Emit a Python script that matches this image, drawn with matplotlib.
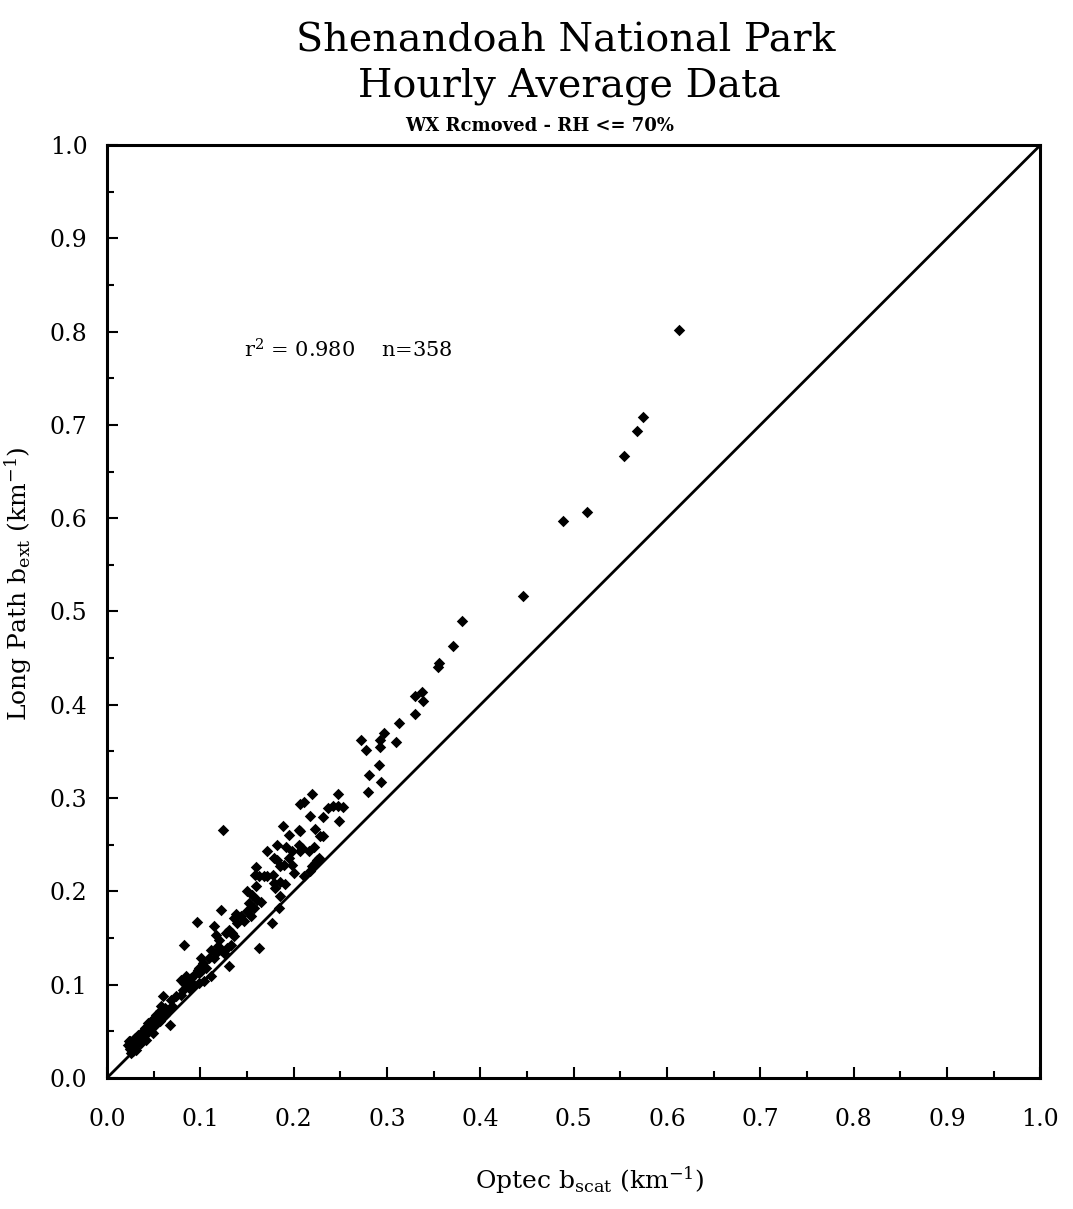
import numpy as np
import matplotlib.pyplot as plt

plt.rcParams["font.family"] = ["DejaVu Serif"]
plt.rcParams["mathtext.fontset"] = "dejavuserif"

# Optec b_scat vs long path b_ext
optec_bscat = [
    # sparse upper range
    0.613, 0.574, 0.568, 0.554, 0.514, 0.489, 0.446,
    0.380, 0.371, 0.356, 0.355, 0.337, 0.330, 0.339, 0.330,
    0.313, 0.310, 0.297, 0.292, 0.292, 0.272, 0.277, 0.291,
    0.281, 0.294, 0.280,
    # 0.15 - 0.26
    0.1248, 0.2195, 0.2479, 0.2064, 0.2106, 0.2170, 0.2319,
    0.2372, 0.2426, 0.2479, 0.2525, 0.2489, 0.1887, 0.1947,
    0.2053, 0.2071, 0.2230, 0.2284, 0.2312, 0.1823, 0.1716,
    0.1922, 0.2053, 0.2089, 0.2071, 0.2160, 0.2213, 0.1982,
    0.1947, 0.1982, 0.2000, 0.1894, 0.1858, 0.1787, 0.1816,
    0.2266, 0.2230, 0.2195, 0.2248, 0.2177, 0.2106, 0.1592,
    0.1582, 0.1628, 0.1681, 0.1716, 0.1780, 0.1787, 0.1805,
    0.1858, 0.1911, 0.1858, 0.1840, 0.1770, 0.1631,
    # 0.08 - 0.16
    0.1504, 0.1557, 0.1592, 0.1610, 0.1645, 0.1521, 0.1574,
    0.1504, 0.1539, 0.1468, 0.1433, 0.1380, 0.1362, 0.1397,
    0.1220, 0.1149, 0.1167, 0.1202, 0.1273, 0.1309, 0.1344,
    0.1362, 0.1326, 0.1290, 0.1255, 0.1220, 0.1184, 0.1167,
    0.1113, 0.1096, 0.1149, 0.0965, 0.0830, 0.1309, 0.1113,
    0.1043, 0.0990, 0.1007, 0.0972, 0.0936, 0.0900, 0.0872,
    0.0848, 0.0812, 0.0794, 0.0883, 0.0936, 0.0990, 0.1007,
    0.1025, 0.1060, 0.0990, 0.0794, 0.0823, 0.0848,
    # dense cluster near the origin
    0.0688, 0.0741, 0.0695, 0.0652, 0.0617, 0.0600, 0.0582,
    0.0564, 0.0528, 0.0510, 0.0475, 0.0440, 0.0457, 0.0404,
    0.0369, 0.0333, 0.0298, 0.0280, 0.0262, 0.0245, 0.0227,
    0.0262, 0.0298, 0.0280, 0.0316, 0.0351, 0.0387, 0.0422,
    0.0457, 0.0510, 0.0546, 0.0564, 0.0617, 0.0652, 0.0670,
    0.0493, 0.0422, 0.0369, 0.0316, 0.0255, 0.0245, 0.0235,
    0.0270, 0.0300, 0.0330, 0.0360, 0.0390, 0.0420, 0.0450,
    0.0480, 0.0520, 0.0550, 0.0580, 0.0620, 0.0250, 0.0290,
    0.0340, 0.0380, 0.0430, 0.0470, 0.0540, 0.0590,
]

longpath_bext = [
    0.802, 0.708, 0.693, 0.667, 0.607, 0.597, 0.517,
    0.490, 0.463, 0.445, 0.440, 0.414, 0.409, 0.404, 0.390,
    0.380, 0.360, 0.370, 0.362, 0.355, 0.362, 0.352, 0.335,
    0.325, 0.317, 0.306,
    0.2661, 0.3046, 0.3046, 0.2939, 0.2954, 0.2804, 0.2793,
    0.2893, 0.2918, 0.2911, 0.2904, 0.2757, 0.2703, 0.2607,
    0.2661, 0.2643, 0.2671, 0.2589, 0.2596, 0.2500, 0.2429,
    0.2475, 0.2500, 0.2464, 0.2429, 0.2429, 0.2475, 0.2429,
    0.2357, 0.2286, 0.2196, 0.2286, 0.2268, 0.2357, 0.2339,
    0.2357, 0.2304, 0.2268, 0.2339, 0.2214, 0.2161, 0.2261,
    0.2179, 0.2161, 0.2168, 0.2161, 0.2179, 0.2089, 0.2036,
    0.2096, 0.2082, 0.1946, 0.1821, 0.1661, 0.1393,
    0.2000, 0.1964, 0.2054, 0.1911, 0.1882, 0.1875, 0.1821,
    0.1786, 0.1732, 0.1679, 0.1732, 0.1761, 0.1714, 0.1661,
    0.1804, 0.1625, 0.1536, 0.1482, 0.1554, 0.1589, 0.1554,
    0.1518, 0.1429, 0.1393, 0.1339, 0.1375, 0.1411, 0.1339,
    0.1375, 0.1286, 0.1286, 0.1668, 0.1421, 0.1204, 0.1089,
    0.1036, 0.1125, 0.1143, 0.1161, 0.1107, 0.1071, 0.1036,
    0.1000, 0.0946, 0.0893, 0.0964, 0.1000, 0.1018, 0.1286,
    0.1232, 0.1179, 0.1179, 0.1054, 0.1018, 0.1089,
    0.0839, 0.0875, 0.0768, 0.0732, 0.0750, 0.0875, 0.0768,
    0.0714, 0.0679, 0.0643, 0.0607, 0.0589, 0.0518, 0.0536,
    0.0482, 0.0464, 0.0429, 0.0411, 0.0375, 0.0393, 0.0357,
    0.0321, 0.0321, 0.0286, 0.0375, 0.0411, 0.0446, 0.0482,
    0.0571, 0.0589, 0.0661, 0.0607, 0.0679, 0.0714, 0.0571,
    0.0482, 0.0411, 0.0375, 0.0304, 0.0268, 0.0311, 0.0400,
    0.0380, 0.0360, 0.0420, 0.0440, 0.0470, 0.0500, 0.0540,
    0.0560, 0.0620, 0.0640, 0.0700, 0.0730, 0.0330, 0.0350,
    0.0400, 0.0430, 0.0500, 0.0530, 0.0630, 0.0680,
]

r2_text = r"r$^{2}$ = 0.980    n=358"

fig = plt.figure(figsize=(10.73, 12.09), dpi=100)
ax = fig.add_axes([0.0997, 0.1084, 0.870, 0.7717])

ax.plot([0, 1], [0, 1], color="black", linewidth=2.0, zorder=2)
ax.scatter(optec_bscat, longpath_bext, marker="D", s=34, color="black",
           linewidths=0, zorder=3)

ax.set_xlim(0, 1)
ax.set_ylim(0, 1)
ax.set_xticks(np.arange(0, 1.01, 0.1))
ax.set_yticks(np.arange(0, 1.01, 0.1))
ax.set_xticks(np.arange(0.05, 1.0, 0.1), minor=True)
ax.set_yticks(np.arange(0.05, 1.0, 0.1), minor=True)
ax.set_xticklabels([f"{v:.1f}" for v in np.arange(0, 1.01, 0.1)])
ax.set_yticklabels([f"{v:.1f}" for v in np.arange(0, 1.01, 0.1)])

ax.tick_params(which="both", direction="in", width=1.5, labelsize=17,
               top=False, right=False)
ax.tick_params(which="major", length=8)
ax.tick_params(which="minor", length=5)
ax.tick_params(axis="x", pad=22)
ax.tick_params(axis="y", pad=14)

for s in ax.spines.values():
    s.set_linewidth(2.2)

ax.set_xlabel(r"Optec b$_{\mathrm{scat}}$ (km$^{-1}$)", fontsize=18)
ax.set_ylabel(r"Long Path b$_{\mathrm{ext}}$ (km$^{-1}$)", fontsize=18)
ax.xaxis.set_label_coords(0.517, -0.093)
ax.yaxis.set_label_coords(-0.078, 0.53)

ax.text(0.147, 0.78, r2_text, fontsize=15, va="center", ha="left")

fig.text(0.527, 0.966, "Shenandoah National Park", fontsize=28.5,
         ha="center", va="center")
fig.text(0.531, 0.929, "Hourly Average Data", fontsize=28.5,
         ha="center", va="center")
fig.text(0.503, 0.896, "WX Rcmoved - RH <= 70%", fontsize=13,
         ha="center", va="center", fontweight="bold")

fig.savefig("out.png", dpi=100)
